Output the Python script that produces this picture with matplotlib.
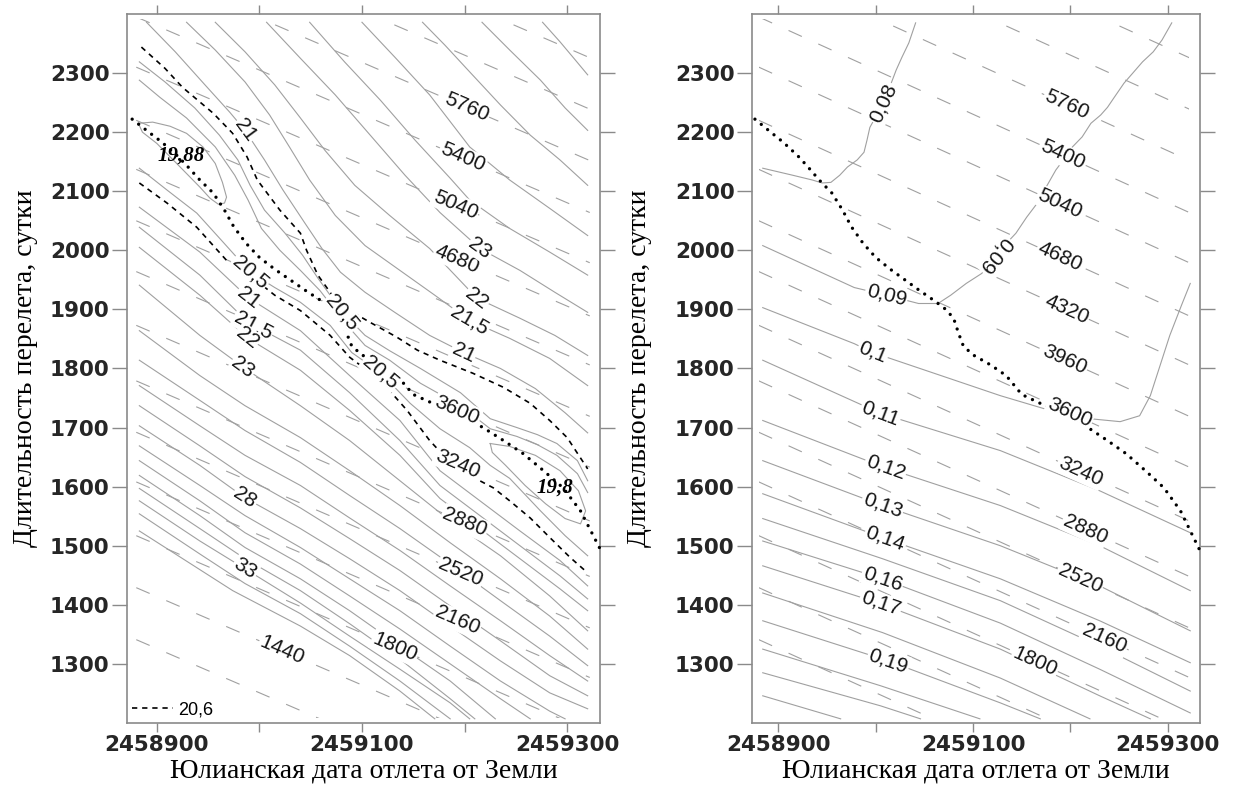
import numpy as np
import matplotlib.pyplot as plt
from matplotlib.patches import Rectangle

plt.rcParams['lines.scale_dashes'] = False
plt.rcParams['font.family'] = ['Liberation Sans', 'DejaVu Sans']

# --- axes ---
X_TICKS = [2458900, 2459000, 2459100, 2459200, 2459300]
X_TICK_LABELS = ['2458900', '', '2459100', '', '2459300']
Y_TICKS = [1300, 1400, 1500, 1600, 1700, 1800, 1900, 2000, 2100, 2200, 2300]
XLABEL = 'Юлианская дата отлета от Земли'
YLABEL = 'Длительность перелета, сутки'

# extent of the computed grid (lines are clipped to it)
GRID_X = [2458880, 2459322]
GRID_T = [1208, 2392]

# --- gray dashed family: value, T at the left and right grid edge ---
DASH_LEVELS = [1080, 1440, 1800, 2160, 2520, 2880, 3240, 3600,
               3960, 4320, 4680, 5040, 5400, 5760, 6120, 6480]
DASH_T_LEFT = [1341, 1429, 1517, 1608, 1692, 1779, 1873, 1964,
               2050, 2137, 2220, 2310, 2395, 2483, 2570, 2657]
DASH_T_RIGHT = [1010, 1098, 1186, 1277, 1361, 1448, 1542, 1633,
                1719, 1806, 1889, 1979, 2064, 2152, 2239, 2326]

DASH_LAB_LEFT = [5760, 5400, 5040, 4680, 3600, 3240, 2880, 2520, 2160, 1800, 1440]
DASH_LAB_LEFT_X = [2459202, 2459198, 2459191, 2459193, 2459193, 2459193,
                   2459200, 2459196, 2459193, 2459132, 2459022]
DASH_LAB_RIGHT = [5760, 5400, 5040, 4680, 4320, 3960, 3600, 3240, 2880, 2520, 2160, 1800]
DASH_LAB_RIGHT_X = [2459196, 2459192, 2459189, 2459189, 2459196, 2459194,
                    2459199, 2459210, 2459215, 2459210, 2459235, 2459164]

# --- dotted optimum line (both panels) ---
OPT = [(2458876, 2222), (2458890, 2203), (2458905, 2183), (2458920, 2160),
       (2458930, 2142), (2458942, 2119), (2458955, 2097), (2458966, 2068),
       (2458975, 2040), (2458987, 2012), (2459000, 1988), (2459015, 1968),
       (2459030, 1950), (2459045, 1932), (2459060, 1915), (2459072, 1900),
       (2459080, 1885), (2459085, 1860), (2459090, 1838), (2459100, 1823),
       (2459118, 1806), (2459134, 1788), (2459150, 1756), (2459169, 1741),
       (2459195, 1722), (2459218, 1700), (2459238, 1678), (2459257, 1656),
       (2459277, 1627), (2459296, 1598), (2459313, 1559), (2459332, 1495)]

# --- left panel: contour 20,6 (black dashed) ---
C206_UP = [(2458885, 2344), (2458908, 2308), (2458925, 2276), (2458955, 2232),
           (2458974, 2198), (2458988, 2158), (2458998, 2119), (2459020, 2068),
           (2459040, 2029), (2459046, 2000), (2459057, 1958), (2459071, 1924),
           (2459088, 1898), (2459108, 1878), (2459134, 1853), (2459154, 1831),
           (2459176, 1814), (2459208, 1792), (2459238, 1768), (2459264, 1741),
           (2459283, 1712), (2459300, 1683), (2459320, 1630)]
C206_LOW = [(2458883, 2114), (2458910, 2080), (2458939, 2039), (2458968, 1983),
            (2458994, 1953), (2459015, 1924), (2459040, 1898), (2459069, 1856),
            (2459088, 1819), (2459118, 1780), (2459144, 1729), (2459166, 1678),
            (2459186, 1641), (2459205, 1619), (2459228, 1598), (2459244, 1576),
            (2459264, 1547), (2459283, 1514), (2459303, 1480), (2459320, 1454)]

# --- left panel: solid contours ---
MIN_1988 = [(2458882, 2215), (2458896, 2217), (2458913, 2210), (2458929, 2198),
            (2458945, 2175), (2458957, 2147), (2458964, 2115), (2458968, 2090),
            (2458966, 2080), (2458960, 2078), (2458952, 2088), (2458942, 2107),
            (2458929, 2130), (2458916, 2153), (2458900, 2181), (2458886, 2200),
            (2458882, 2215)]
MIN_198 = [(2459225, 1673), (2459244, 1668), (2459269, 1653), (2459293, 1627),
           (2459311, 1593), (2459318, 1559), (2459313, 1537), (2459298, 1546),
           (2459279, 1571), (2459259, 1602), (2459240, 1636), (2459227, 1658),
           (2459225, 1673)]
U20 = [(2458883, 2288), (2458903, 2259), (2458929, 2224), (2458957, 2175),
       (2458976, 2127), (2458989, 2085), (2459002, 2037), (2459020, 2000),
       (2459040, 1966), (2459059, 1932), (2459083, 1878), (2459103, 1839),
       (2459127, 1814), (2459157, 1775), (2459196, 1737), (2459225, 1698),
       (2459251, 1685), (2459271, 1671), (2459290, 1653), (2459310, 1622),
       (2459320, 1590)]
U205 = [(2458883, 2319), (2458908, 2285), (2458937, 2241), (2458961, 2195),
        (2458979, 2153), (2458991, 2110), (2459005, 2068), (2459025, 2029),
        (2459042, 1992), (2459057, 1953), (2459069, 1924), (2459081, 1895),
        (2459103, 1856), (2459127, 1830), (2459157, 1800), (2459196, 1759),
        (2459225, 1715), (2459251, 1700), (2459271, 1688), (2459290, 1673),
        (2459310, 1644), (2459320, 1610)]
L205 = [(2458883, 2139), (2458910, 2102), (2458939, 2063), (2458963, 2017),
        (2458991, 1963), (2459015, 1937), (2459040, 1912), (2459069, 1873),
        (2459090, 1827), (2459118, 1793), (2459147, 1741), (2459176, 1698),
        (2459205, 1666), (2459225, 1636), (2459244, 1614), (2459274, 1559),
        (2459298, 1517), (2459320, 1483)]
A21 = [(2458890, 2386), (2458918, 2336), (2458947, 2280), (2458971, 2234),
       (2458986, 2203), (2459005, 2153), (2459023, 2102), (2459044, 2047),
       (2459061, 2003), (2459079, 1963), (2459103, 1929), (2459132, 1895),
       (2459166, 1856), (2459199, 1827), (2459235, 1800), (2459269, 1766),
       (2459298, 1725), (2459320, 1691)]
A215 = [(2458929, 2386), (2458957, 2339), (2458986, 2285), (2459010, 2229),
        (2459030, 2173), (2459049, 2119), (2459074, 2059), (2459103, 2008),
        (2459137, 1966), (2459171, 1924), (2459205, 1881), (2459244, 1851),
        (2459283, 1817), (2459320, 1771)]
A22 = [(2458957, 2386), (2458986, 2336), (2459015, 2280), (2459040, 2224),
       (2459064, 2169), (2459093, 2110), (2459127, 2059), (2459166, 2003),
       (2459212, 1919), (2459254, 1885), (2459288, 1856), (2459320, 1822)]
A23 = [(2459007, 2386), (2459040, 2325), (2459074, 2263), (2459108, 2195),
       (2459142, 2127), (2459176, 2064), (2459215, 2003), (2459254, 1966),
       (2459288, 1929), (2459320, 1895)]
A24 = [(2459049, 2386), (2459083, 2319), (2459118, 2254), (2459152, 2186),
       (2459186, 2122), (2459205, 2085), (2459244, 2037), (2459283, 1997),
       (2459320, 1958)]
A25 = [(2459100, 2386), (2459132, 2327), (2459166, 2263), (2459205, 2175),
       (2459244, 2119), (2459283, 2071), (2459320, 2025)]
A26 = [(2459159, 2386), (2459181, 2347), (2459205, 2302), (2459235, 2246),
       (2459264, 2195), (2459293, 2153), (2459320, 2110)]
A27 = [(2459217, 2386), (2459244, 2339), (2459274, 2288), (2459298, 2241),
       (2459320, 2203)]
A28 = [(2459276, 2386), (2459293, 2353), (2459308, 2322), (2459320, 2297)]

XB = [2458883, 2458942, 2458989, 2459040, 2459088, 2459137, 2459176, 2459215,
      2459254, 2459293, 2459320]
B21 = list(zip(XB, [2073, 1997, 1920, 1864, 1788, 1712, 1627, 1576, 1525, 1475, 1432]))
B215 = list(zip(XB, [2039, 1958, 1878, 1831, 1759, 1678, 1602, 1551, 1500, 1449, 1410]))
B22 = list(zip(XB, [2005, 1924, 1851, 1797, 1729, 1653, 1580, 1529, 1478, 1427, 1390]))
XB2 = [2458883, 2458942, 2458986, 2459040, 2459088, 2459137, 2459186, 2459235,
       2459283, 2459320]
B23 = list(zip(XB2, [1941, 1856, 1800, 1737, 1678, 1610, 1542, 1483, 1415, 1356]))
B24 = list(zip(XB2, [1864, 1788, 1737, 1683, 1627, 1568, 1505, 1444, 1381, 1325]))
B25 = list(zip(XB2, [1814, 1746, 1695, 1641, 1585, 1529, 1469, 1407, 1347, 1297]))
B26 = list(zip(XB2, [1771, 1703, 1653, 1602, 1547, 1492, 1432, 1373, 1314, 1271]))
B27 = list(zip(XB2, [1737, 1669, 1617, 1564, 1512, 1458, 1398, 1339, 1280, 1246]))
B28 = list(zip(XB2, [1703, 1636, 1581, 1529, 1478, 1424, 1364, 1305, 1251, 1224]))
B29 = list(zip(XB2[:9] + [2459298], [1669, 1602, 1551, 1497, 1444, 1390, 1330, 1271, 1220, 1207]))
B30 = list(zip(XB2[:8] + [2459264], [1644, 1576, 1522, 1469, 1415, 1359, 1300, 1241, 1207]))
B31 = list(zip(XB2[:7] + [2459230], [1619, 1551, 1497, 1444, 1390, 1330, 1271, 1207]))
B32 = list(zip(XB2[:7] + [2459210], [1597, 1529, 1478, 1424, 1368, 1308, 1241, 1207]))
B33 = list(zip(XB2[:7] + [2459205], [1576, 1508, 1461, 1403, 1347, 1291, 1234, 1207]))
B34 = list(zip(XB2[:6] + [2459176, 2459186], [1554, 1486, 1436, 1385, 1330, 1271, 1220, 1207]))
B35 = [(2458883, 1525), (2458974, 1424), (2459040, 1364), (2459088, 1314),
       (2459137, 1254), (2459171, 1207)]

LEFT_SOLID = [MIN_1988, MIN_198, U20, U205, L205, A21, A215, A22, A23, A24, A25,
              A26, A27, A28, B21, B215, B22, B23, B24, B25, B26, B27, B28, B29,
              B30, B31, B32, B33, B34, B35]
LEFT_LABELS = [(A21, 2458986, '21'), (A21, 2459199, '21'), (A215, 2459205, '21,5'),
               (A22, 2459212, '22'), (A23, 2459215, '23'), (U205, 2459081, '20,5'),
               (L205, 2458991, '20,5'), (L205, 2459118, '20,5'), (B21, 2458989, '21'),
               (B215, 2458994, '21,5'), (B22, 2458988, '22'), (B23, 2458984, '23'),
               (B28, 2458986, '28'), (B33, 2458986, '33')]
MIN_LABELS = [('19,88', 2458924, 2161), ('19,8', 2459288, 1598)]

# --- right panel: solid contours ---
R008 = [(2458884, 2139), (2458915, 2127), (2458935, 2119), (2458945, 2114),
        (2458954, 2115), (2458963, 2127), (2458971, 2141), (2458981, 2153),
        (2458988, 2166), (2458991, 2186), (2458994, 2208), (2458997, 2217),
        (2459008, 2249), (2459018, 2292), (2459021, 2305), (2459027, 2327),
        (2459034, 2351), (2459041, 2385)]
R009 = [(2458884, 2008), (2458978, 1937), (2459011, 1924), (2459044, 1910),
        (2459064, 1910), (2459077, 1924), (2459093, 1944), (2459109, 1961),
        (2459123, 1992), (2459144, 2029), (2459155, 2056), (2459166, 2080),
        (2459175, 2107), (2459185, 2136), (2459195, 2158), (2459202, 2175),
        (2459212, 2192), (2459221, 2215), (2459231, 2229), (2459238, 2242),
        (2459245, 2259), (2459255, 2283), (2459264, 2300), (2459274, 2319),
        (2459285, 2336), (2459294, 2356), (2459304, 2385)]
R010 = [(2458884, 1903), (2458978, 1842), (2458997, 1827), (2459076, 1783),
        (2459128, 1754), (2459179, 1729), (2459220, 1715), (2459251, 1710),
        (2459271, 1720), (2459282, 1754), (2459292, 1805), (2459302, 1856),
        (2459314, 1907), (2459323, 1944)]
R011 = [(2458884, 1814), (2459005, 1724), (2459128, 1661), (2459230, 1593), (2459323, 1522)]
R012 = [(2458884, 1712), (2459010, 1632), (2459128, 1568), (2459230, 1500), (2459323, 1424)]
R013 = [(2458884, 1644), (2459007, 1568), (2459128, 1500), (2459230, 1432), (2459323, 1356)]
R014 = [(2458884, 1588), (2459010, 1512), (2459128, 1444), (2459230, 1373), (2459323, 1302)]
R015 = [(2458884, 1546), (2459007, 1478), (2459128, 1407), (2459230, 1330), (2459323, 1254)]
R016 = [(2458884, 1508), (2459007, 1444), (2459128, 1369), (2459230, 1291), (2459323, 1217)]
R017 = [(2458884, 1466), (2459005, 1402), (2459128, 1325), (2459230, 1246), (2459282, 1207)]
R018 = [(2458884, 1420), (2459007, 1353), (2459128, 1276), (2459220, 1207)]
R019 = [(2458884, 1373), (2459013, 1305), (2459128, 1234), (2459169, 1207)]
R020 = [(2458884, 1325), (2459005, 1263), (2459107, 1207)]
R021 = [(2458884, 1285), (2459005, 1229), (2459046, 1207)]
R022 = [(2458884, 1246), (2458964, 1207)]

RIGHT_SOLID = [R008, R009, R010, R011, R012, R013, R014, R015, R016, R017,
               R018, R019, R020, R021, R022]
RIGHT_LABELS = [(R008, 2459008, '0,08'), (R009, 2459011, '0,09'), (R010, 2458997, '0,1'),
                (R011, 2459005, '0,11'), (R012, 2459010, '0,12'), (R013, 2459007, '0,13'),
                (R014, 2459010, '0,14'), (R016, 2459007, '0,16'), (R017, 2459005, '0,17'),
                (R019, 2459013, '0,19')]
RIGHT_FLIP_LABELS = [(R009, 2459123, '0,09')]

GRAY = '#a0a0a0'
LAB_FS = 15


def put_label(ax, pts, x, text, flip=False):
    xs, ts = np.array(pts, dtype=float).T
    y = np.interp(x, xs, ts)
    p0 = ax.transData.transform((x - 3, np.interp(x - 3, xs, ts)))
    p1 = ax.transData.transform((x + 3, np.interp(x + 3, xs, ts)))
    ang = np.degrees(np.arctan2(p1[1] - p0[1], p1[0] - p0[0]))
    if flip:
        ang += 180
    ax.text(x, y, text, rotation=ang, rotation_mode='anchor', ha='center',
            va='center', fontsize=LAB_FS, color='#151515', zorder=6,
            bbox=dict(boxstyle='square,pad=0.06', fc='white', ec='none'))


def setup(ax, xlim, ylab_x):
    ax.set_xlim(*xlim)
    ax.set_ylim(1200, 2400)
    ax.set_xticks(X_TICKS)
    ax.set_xticklabels(X_TICK_LABELS)
    ax.set_yticks(Y_TICKS)
    ax.set_yticklabels([str(v) for v in Y_TICKS])
    for lab in ax.get_xticklabels() + ax.get_yticklabels():
        lab.set_family('DejaVu Sans')
        lab.set_fontweight('bold')
        lab.set_fontsize(15.5)
        lab.set_color('#262626')
    ax.tick_params(axis='x', direction='out', length=6.5, width=1, color='#8a8a8a',
                   top=True, bottom=True, pad=2)
    ax.tick_params(axis='y', direction='out', length=10.5, width=1, color='#8a8a8a',
                   left=True, right=True, pad=2)
    for s in ax.spines.values():
        s.set_color('#8a8a8a')
        s.set_linewidth(1.2)
    ax.set_xlabel(XLABEL, family='Liberation Serif', fontsize=20)
    ax.set_ylabel(YLABEL, family='Liberation Serif', fontsize=20)
    ax.xaxis.set_label_coords(0.5, -0.05)
    ax.yaxis.set_label_coords(ylab_x, 0.5)


def draw_common(ax, dash_labels, dash_label_x):
    clip = Rectangle((GRID_X[0], GRID_T[0]), GRID_X[1] - GRID_X[0],
                     GRID_T[1] - GRID_T[0], transform=ax.transData,
                     fc='none', ec='none')
    ax.add_patch(clip)
    for tl, tr in zip(DASH_T_LEFT, DASH_T_RIGHT):
        ln, = ax.plot(GRID_X, [tl, tr], color=GRAY, lw=0.8, dashes=(10.5, 13), zorder=2)
        ln.set_clip_path(clip)
    for lev, x in zip(dash_labels, dash_label_x):
        i = DASH_LEVELS.index(lev)
        put_label(ax, [(GRID_X[0], DASH_T_LEFT[i]), (GRID_X[1], DASH_T_RIGHT[i])], x, str(lev))
    ox, ot = np.array(OPT).T
    ax.plot(ox, ot, color='black', lw=2.4, dashes=(0.01, 5.9),
            dash_capstyle='round', zorder=4, clip_on=False)


fig = plt.figure(figsize=(12.43, 7.91), dpi=100)
ax1 = fig.add_axes([0.1022, 0.0860, 0.3805, 0.8963])
ax2 = fig.add_axes([0.6050, 0.0860, 0.3604, 0.8963])

setup(ax1, (2458871, 2459332), -0.188)
setup(ax2, (2458873, 2459333), -0.223)

# left panel
for pts in LEFT_SOLID:
    px, pt = np.array(pts).T
    ax1.plot(px, pt, color=GRAY, lw=0.8, zorder=2)
h206 = None
for pts in (C206_UP, C206_LOW):
    px, pt = np.array(pts).T
    h206, = ax1.plot(px, pt, color='black', lw=1.2, dashes=(3.8, 3.5), zorder=3)
draw_common(ax1, DASH_LAB_LEFT, DASH_LAB_LEFT_X)
for pts, x, txt in LEFT_LABELS:
    put_label(ax1, pts, x, txt)
for txt, x, y in MIN_LABELS:
    ax1.text(x, y, txt, family='Liberation Serif', fontsize=15, fontweight='bold',
             style='italic', ha='center', va='center', zorder=7)
ax1.legend([h206], ['20,6'], loc='lower left', frameon=False, fontsize=13,
           handlelength=2.3, handletextpad=0.3, borderaxespad=0.15, borderpad=0.1)

# right panel
for pts in RIGHT_SOLID:
    px, pt = np.array(pts).T
    ax2.plot(px, pt, color=GRAY, lw=0.8, zorder=2)
draw_common(ax2, DASH_LAB_RIGHT, DASH_LAB_RIGHT_X)
for pts, x, txt in RIGHT_LABELS:
    put_label(ax2, pts, x, txt)
for pts, x, txt in RIGHT_FLIP_LABELS:
    put_label(ax2, pts, x, txt, flip=True)

fig.savefig('out.png', dpi=100, facecolor='white')
